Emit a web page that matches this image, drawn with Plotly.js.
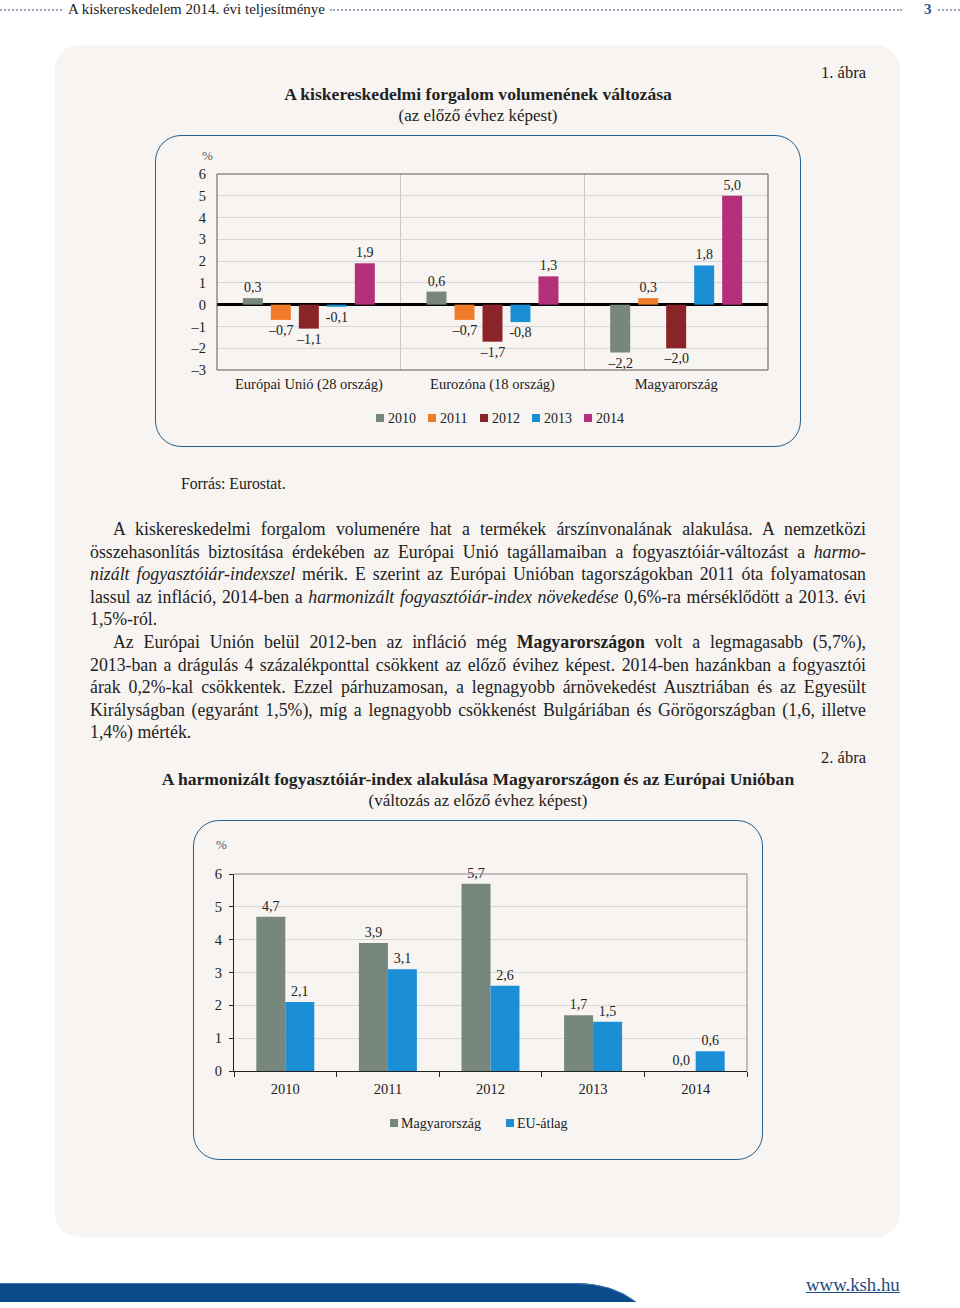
<!DOCTYPE html>
<html><head><meta charset="utf-8">
<script src="https://cdn.plot.ly/plotly-3.0.1.min.js"></script>
<style>
html,body{margin:0;padding:0;background:#fff;}
body{width:960px;height:1308px;position:relative;overflow:hidden;font-family:"Liberation Serif",serif;color:#222;}
.abs{position:absolute;}
#panel{left:55px;top:45px;width:845px;height:1192px;background:#f7f4f1;border-radius:24px;}
.box{border:1.6px solid #24608f;border-radius:26px;box-sizing:border-box;}
.dots{height:0;border-top:2px dotted #9aa8ba;}
.ctr{text-align:center;}
.ttl{font-weight:bold;font-size:17.6px;line-height:20px;white-space:nowrap;}
.sub{font-size:17px;line-height:20px;}
#body{left:90px;top:518px;width:776px;font-size:17.8px;}
#body div{height:22.6px;line-height:22.6px;white-space:nowrap;text-align:justify;text-align-last:justify;}
#body div.last{text-align-last:left;}
#body div.ind{padding-left:23px;}
</style>
</head><body>
<!-- header -->
<div class="abs dots" style="left:0;top:9px;width:62px"></div>
<div class="abs" style="left:68px;top:0px;font-size:15px;line-height:18px;">A kiskereskedelem 2014. évi teljesítménye</div>
<div class="abs dots" style="left:330px;top:9px;width:572px"></div>
<div class="abs" style="left:924px;top:0px;font-size:15px;line-height:18px;color:#1d5a96;font-weight:bold;">3</div>
<div class="abs dots" style="left:938px;top:9px;width:22px"></div>

<div id="panel" class="abs"></div>

<div class="abs" style="left:766px;top:63px;width:100px;text-align:right;font-size:16.5px;line-height:20px;">1. ábra</div>
<div class="abs ctr ttl" style="left:128px;top:84px;width:700px;">A kiskereskedelmi forgalom volumenének változása</div>
<div class="abs ctr sub" style="left:178px;top:106px;width:600px;">(az előző évhez képest)</div>

<div class="abs box" style="left:155px;top:135px;width:646px;height:312px;"></div>
<div id="c1" class="abs" style="left:155px;top:135px;width:646px;height:311px;"></div>

<div class="abs" style="left:181px;top:475px;font-size:15.7px;line-height:18px;">Forrás: Eurostat.</div>

<div id="body" class="abs">
<div class="ind">A kiskereskedelmi forgalom volumenére hat a termékek árszínvonalának alakulása. A nemzetközi</div>
<div>összehasonlítás biztosítása érdekében az Európai Unió tagállamaiban a fogyasztóiár-változást a <i>harmo-</i></div>
<div><i>nizált fogyasztóiár-indexszel</i> mérik. E szerint az Európai Unióban tagországokban 2011 óta folyamatosan</div>
<div>lassul az infláció, 2014-ben a <i>harmonizált fogyasztóiár-index növekedése</i> 0,6%-ra mérséklődött a 2013. évi</div>
<div class="last">1,5%-ról.</div>
<div class="ind">Az Európai Unión belül 2012-ben az infláció még <b>Magyarországon</b> volt a legmagasabb (5,7%),</div>
<div>2013-ban a drágulás 4 százalékponttal csökkent az előző évihez képest. 2014-ben hazánkban a fogyasztói</div>
<div>árak 0,2%-kal csökkentek. Ezzel párhuzamosan, a legnagyobb árnövekedést Ausztriában és az Egyesült</div>
<div>Királyságban (egyaránt 1,5%), míg a legnagyobb csökkenést Bulgáriában és Görögországban (1,6, illetve</div>
<div class="last">1,4%) mérték.</div>
</div>

<div class="abs" style="left:766px;top:748px;width:100px;text-align:right;font-size:16.5px;line-height:20px;">2. ábra</div>
<div class="abs ctr ttl" style="left:128px;top:769px;width:700px;">A harmonizált fogyasztóiár-index alakulása Magyarországon és az Európai Unióban</div>
<div class="abs ctr sub" style="left:178px;top:791px;width:600px;">(változás az előző évhez képest)</div>

<div class="abs box" style="left:193px;top:820px;width:570px;height:340px;"></div>
<div id="c2" class="abs" style="left:193px;top:820px;width:570px;height:340px;"></div>

<!-- footer -->
<svg class="abs" style="left:0;top:1278px" width="700" height="30">
  <path d="M0,5 L575,5 Q612,5 636,24 L0,24 Z" fill="#0b4a8b"/>
  <path d="M0,5.5 L575,5.5 Q612,5.5 636,24" fill="none" stroke="#3f78b0" stroke-width="1"/>
</svg>
<div class="abs" style="left:806px;top:1275px;font-size:18.8px;line-height:20px;color:#1f4a80;text-decoration:underline;">www.ksh.hu</div>

<script>
// ---------- Chart 1 data ----------
const groups1 = ["Európai Unió (28 ország)", "Eurozóna (18 ország)", "Magyarország"];
const years1 = ["2010", "2011", "2012", "2013", "2014"];
const v2010 = [0.3, 0.6, -2.2];
const v2011 = [-0.7, -0.7, 0.3];
const v2012 = [-1.1, -1.7, -2.0];
const v2013 = [-0.1, -0.8, 1.8];
const v2014 = [1.9, 1.3, 5.0];
const yTicks1 = [6, 5, 4, 3, 2, 1, 0, -1, -2, -3];
const yTickText1 = ["6", "5", "4", "3", "2", "1", "0", "–1", "–2", "–3"];

// ---------- Chart 2 data ----------
const years2 = ["2010", "2011", "2012", "2013", "2014"];
const series2 = ["Magyarország", "EU-átlag"];
const hu = [4.7, 3.9, 5.7, 1.7, 0.0];
const eu = [2.1, 3.1, 2.6, 1.5, 0.6];
const yTicks2 = [0, 1, 2, 3, 4, 5, 6];

// ---------- styles ----------
const colors1 = ["#77877d", "#f07b2a", "#8b2428", "#1a8fd6", "#b4307b"];
const dash1 = ["–", "–", "–", "-", "–"];
const colors2 = ["#77877d", "#1a8fd6"];
const FONT = "Liberation Serif, serif";
const TXT = "#222";

function fmt(v, dash) {
  const s = Math.abs(v).toFixed(1).replace(".", ",");
  return v < 0 ? dash + s : s;
}

// fit justified body lines that would overflow
(function () {
  document.querySelectorAll("#body div").forEach(d => {
    const avail = 776 - (d.classList.contains("ind") ? 23 : 0);
    const span = document.createElement("span");
    while (d.firstChild) span.appendChild(d.firstChild);
    d.appendChild(span);
    const ta = d.style.textAlignLast;
    d.style.textAlignLast = "left"; d.style.textAlign = "left";
    const w = span.getBoundingClientRect().width;
    d.style.textAlignLast = ta; d.style.textAlign = "";
    if (w > avail) {
      const n = span.textContent.length;
      span.style.letterSpacing = ((avail - w - 2) / n) + "px";
    }
  });
})();

// geometry helper: page coords -> paper coords
function geo(divL, divT, l, t, w, h) {
  return {
    x: px => (px - divL - l) / w,
    y: py => (t + h - (py - divT)) / h
  };
}

// ---------- Chart 1 ----------
(function () {
  const W = 646, H = 311, m = { l: 62, r: 33, t: 39, b: 76 };
  const pw = W - m.l - m.r, ph = H - m.t - m.b;
  const g = geo(155, 135, m.l, m.t, pw, ph);
  const vals = [v2010, v2011, v2012, v2013, v2014];
  const traces = vals.map((v, i) => ({
    type: "bar", x: groups1, y: v, name: years1[i],
    marker: { color: colors1[i] },
    text: v.map(d => fmt(d, dash1[i])),
    textposition: "outside", cliponaxis: false, constraintext: "none",
    textfont: { family: FONT, size: 14, color: TXT },
    showlegend: false, hoverinfo: "skip"
  }));
  const shapes = [{ type: "rect", xref: "paper", yref: "paper", x0: 0, x1: 1, y0: 0, y1: 1,
    line: { color: "#5a5a5a", width: 1 }, layer: "above" }];
  const annotations = [{ text: "%", xref: "paper", yref: "paper", x: g.x(207), y: g.y(155),
    xanchor: "center", yanchor: "middle",
    showarrow: false, font: { family: FONT, size: 13, color: "#555" } }];
  years1.forEach((yr, i) => {
    const x0 = 376 + i * 52;
    shapes.push({ type: "rect", xref: "paper", yref: "paper",
      x0: g.x(x0), x1: g.x(x0 + 8), y0: g.y(422), y1: g.y(414),
      fillcolor: colors1[i], line: { width: 0 } });
    annotations.push({ text: yr, xref: "paper", yref: "paper", x: g.x(x0 + 10), y: g.y(418),
      xanchor: "left", yanchor: "middle", showarrow: false,
      font: { family: FONT, size: 14, color: TXT } });
  });
  const layout = {
    width: W, height: H, margin: m,
    paper_bgcolor: "rgba(0,0,0,0)", plot_bgcolor: "rgba(0,0,0,0)",
    font: { family: FONT, size: 14, color: TXT },
    barmode: "group", bargap: 0.238, bargroupgap: 0.286,
    xaxis: { type: "category", tickson: "boundaries", showgrid: true, gridcolor: "#c8c8c8",
      ticks: "", showline: false, ticklabelstandoff: 3, tickfont: { size: 14.5 }, fixedrange: true },
    yaxis: { range: [-3, 6], tickvals: yTicks1, ticktext: yTickText1, showgrid: true,
      gridcolor: "#d6d6d6", zeroline: true, zerolinecolor: "#000", zerolinewidth: 3.5,
      showline: false, ticks: "", ticklabelstandoff: 10, tickfont: { size: 14.5 }, fixedrange: true },
    shapes: shapes, annotations: annotations
  };
  Plotly.newPlot("c1", traces, layout, { staticPlot: true, displayModeBar: false });
})();

// ---------- Chart 2 ----------
(function () {
  const W = 570, H = 340, m = { l: 41, r: 16, t: 54, b: 89 };
  const pw = W - m.l - m.r, ph = H - m.t - m.b;
  const g = geo(193, 820, m.l, m.t, pw, ph);
  const vals = [hu, eu];
  const traces = vals.map((v, i) => ({
    type: "bar", x: years2, y: v, name: series2[i],
    marker: { color: colors2[i] },
    text: v.map(d => fmt(d, "–")),
    textposition: "outside", cliponaxis: false, constraintext: "none",
    textfont: { family: FONT, size: 14, color: TXT },
    showlegend: false, hoverinfo: "skip"
  }));
  const shapes = [
    { type: "line", xref: "paper", yref: "paper", x0: 0, x1: 1, y0: 1, y1: 1, line: { color: "#8a8a8a", width: 1 } },
    { type: "line", xref: "paper", yref: "paper", x0: 1, x1: 1, y0: 0, y1: 1, line: { color: "#8a8a8a", width: 1 } }
  ];
  const annotations = [{ text: "%", xref: "paper", yref: "paper", x: g.x(221), y: g.y(845),
    xanchor: "center", yanchor: "middle",
    showarrow: false, font: { family: FONT, size: 13, color: "#555" } }];
  const lx = [390, 506];
  series2.forEach((s, i) => {
    shapes.push({ type: "rect", xref: "paper", yref: "paper",
      x0: g.x(lx[i]), x1: g.x(lx[i] + 8), y0: g.y(1127), y1: g.y(1119),
      fillcolor: colors2[i], line: { width: 0 } });
    annotations.push({ text: s, xref: "paper", yref: "paper", x: g.x(lx[i] + 9), y: g.y(1123),
      xanchor: "left", yanchor: "middle", showarrow: false,
      font: { family: FONT, size: 14, color: TXT } });
  });
  const layout = {
    width: W, height: H, margin: m,
    paper_bgcolor: "rgba(0,0,0,0)", plot_bgcolor: "rgba(0,0,0,0)",
    font: { family: FONT, size: 14, color: TXT },
    barmode: "group", bargap: 0.435, bargroupgap: 0,
    xaxis: { type: "category", tickson: "boundaries", showgrid: false, ticks: "outside",
      ticklen: 5, tickcolor: "#222", showline: true, linecolor: "#222", linewidth: 1.2,
      ticklabelstandoff: 4, tickfont: { size: 14.5 }, fixedrange: true },
    yaxis: { range: [0, 6], tickvals: yTicks2, showgrid: true, gridcolor: "#d6d6d6",
      zeroline: false, showline: true, linecolor: "#222", linewidth: 1.2, ticks: "outside",
      ticklen: 4, tickcolor: "#222", ticklabelstandoff: 4, tickfont: { size: 14.5 }, fixedrange: true },
    shapes: shapes, annotations: annotations
  };
  Plotly.newPlot("c2", traces, layout, { staticPlot: true, displayModeBar: false });
})();
</script>
</body></html>
